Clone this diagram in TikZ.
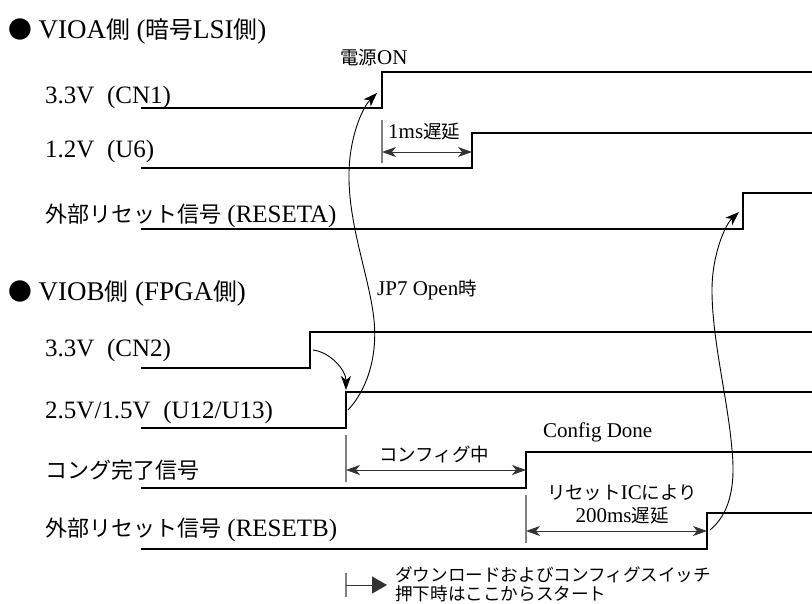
\documentclass[tikz,border=0pt]{standalone}
\usepackage{fontspec}
\setmainfont{Liberation Serif}
\newfontfamily\jp[Scale=0.88]{Noto Sans CJK JP}
\newcommand\J[1]{{\jp #1}}
\usetikzlibrary{arrows.meta}
\tikzset{
  sig/.style={line width=1.8pt, line join=miter},
  curvearrow/.style={line width=0.9pt, -{Stealth[length=14pt,width=10pt,inset=4pt]}},
  dimarrow/.style={line width=1pt, draw=black!80, {Stealth[length=14pt,width=10pt,inset=4pt]}-{Stealth[length=14pt,width=10pt,inset=4pt]}},
  startarrow/.style={line width=1pt, draw=black!80, -{Triangle[length=15pt,width=17pt]}},
  bar/.style={line width=1.2pt, draw=black!50},
  lbl/.style={anchor=base west, inner sep=0pt, font=\fontsize{25}{29}\selectfont},
  ttl/.style={anchor=base west, inner sep=0pt, font=\fontsize{27}{31}\selectfont},
  ann/.style={anchor=base west, inner sep=0pt, font=\fontsize{21}{24}\selectfont},
  annc/.style={anchor=base, inner sep=0pt, font=\fontsize{21}{24}\selectfont},
  note/.style={anchor=base west, inner sep=0pt, font=\fontsize{20}{22}\selectfont},
}
\begin{document}
\begin{tikzpicture}[x=1pt,y=-1pt]
\path[use as bounding box] (0,0) rectangle (812,603);

% ---- titles and labels
\node[ttl] (tA) at (8,38) {\J{●} VIOA\J{側} (\J{暗号}LSI\J{側})};
\node[lbl] (l1) at (45,103) {3.3V\ \ (CN1)};
\node[lbl] (l2) at (45,157) {1.2V\ \ (U6)};
\node[lbl] (l3) at (45,222) {\J{外部リセット信号} (RESETA)};
\node[ttl] (tB) at (8,300) {\J{●} VIOB\J{側} (FPGA\J{側})};
\node[lbl] (l4) at (45,356) {3.3V\ \ (CN2)};
\node[lbl] (l5) at (45,418) {2.5V/1.5V\ \ (U12/U13)};
\node[lbl] (l6) at (45,478) {\J{コング完了信号}};
\node[lbl] (l7) at (45,536) {\J{外部リセット信号} (RESETB)};

% ---- waveforms
\coordinate (a0) at (141,108); \coordinate (a1) at (382,108);
\coordinate (a2) at (382,72);  \coordinate (a3) at (812,72);
\draw[sig] (a0) -- (a1) -- (a2) -- (a3);

\coordinate (b0) at (141,168); \coordinate (b1) at (472,168);
\coordinate (b2) at (472,133); \coordinate (b3) at (812,133);
\draw[sig] (b0) -- (b1) -- (b2) -- (b3);

\coordinate (c0) at (141,229); \coordinate (c1) at (743,229);
\coordinate (c2) at (743,193); \coordinate (c3) at (812,193);
\draw[sig] (c0) -- (c1) -- (c2) -- (c3);

\coordinate (d0) at (141,368); \coordinate (d1) at (310,368);
\coordinate (d2) at (310,332); \coordinate (d3) at (812,332);
\draw[sig] (d0) -- (d1) -- (d2) -- (d3);

\coordinate (e0) at (141,428); \coordinate (e1) at (346,428);
\coordinate (e2) at (346,392); \coordinate (e3) at (812,392);
\draw[sig] (e0) -- (e1) -- (e2) -- (e3);

\coordinate (f0) at (141,488); \coordinate (f1) at (526,488);
\coordinate (f2) at (526,452); \coordinate (f3) at (812,452);
\draw[sig] (f0) -- (f1) -- (f2) -- (f3);

\coordinate (g0) at (141,549); \coordinate (g1) at (707,549);
\coordinate (g2) at (707,513); \coordinate (g3) at (812,513);
\draw[sig] (g0) -- (g1) -- (g2) -- (g3);

% ---- annotations
\node[ann] (on) at (340,64) {\J{電源}ON};
\node[ann] (d1ms) at (388,138) {1ms\J{遅延}};
\node[ann] (jp7) at (377,295) {JP7 Open\J{時}};
\node[ann] (cfgd) at (543,437) {Config Done};
\node[annc] (cfgm) at (434,461) {\J{コンフィグ中}};
\node[annc] (ric1) at (622,499) {\J{リセット}IC\J{により}};
\node[annc] (ric2) at (622,522) {200ms\J{遅延}};
\node[note] (n1) at (395,581) {\J{ダウンロードおよびコンフィグスイッチ}};
\node[note] (n2) at (395,600) {\J{押下時はここからスタート}};

% ---- dimension markers
\coordinate (m1t) at (382,120); \coordinate (m1b) at (382,163);
\draw[bar] (m1t) -- (m1b);
\coordinate (m1l) at (382,152); \coordinate (m1r) at (472,152);
\draw[dimarrow] (m1l) -- (m1r);

\coordinate (m2t) at (346,435); \coordinate (m2b) at (346,482);
\draw[bar] (m2t) -- (m2b);
\coordinate (m2l) at (346,470); \coordinate (m2r) at (526,470);
\draw[dimarrow] (m2l) -- (m2r);

\coordinate (m3t) at (526,495); \coordinate (m3b) at (526,543);
\draw[bar] (m3t) -- (m3b);
\coordinate (m3l) at (526,531); \coordinate (m3r) at (707,531);
\draw[dimarrow] (m3l) -- (m3r);

\coordinate (m4t) at (346,573); \coordinate (m4b) at (346,597);
\draw[bar] (m4t) -- (m4b);
\coordinate (m4l) at (346,585); \coordinate (m4r) at (387,585);
\draw[startarrow] (m4l) -- (m4r);

% ---- causal curves
\coordinate (ca0) at (313,350); \coordinate (ca1) at (346,390);
\draw[curvearrow] (ca0) .. controls (330,352) and (346,370) .. (ca1);

\coordinate (cb0) at (348,410); \coordinate (cb1) at (377,93);
\draw[curvearrow] (cb0) .. controls (365,392) and (378,360) .. (374,320)
  .. controls (370,280) and (350,230) .. (349,180)
  .. controls (348,140) and (362,108) .. (cb1);

\coordinate (cc0) at (710,530); \coordinate (cc1) at (739,212);
\draw[curvearrow] (cc0) .. controls (728,515) and (736,490) .. (732,450)
  .. controls (728,400) and (712,340) .. (712,290)
  .. controls (712,255) and (725,225) .. (cc1);
\end{tikzpicture}
\end{document}
